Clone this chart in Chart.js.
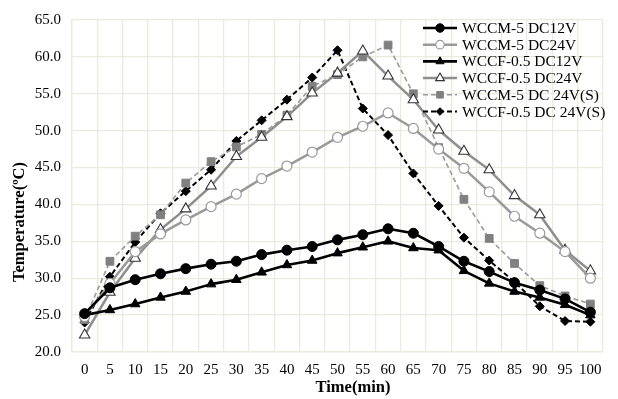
<!DOCTYPE html>
<html>
<head>
<meta charset="utf-8">
<script src="https://cdn.jsdelivr.net/npm/chart.js@4/dist/chart.umd.min.js"></script>
<style>
  html, body { margin: 0; padding: 0; background: #ffffff; }
  #wrap { width: 618px; height: 399px; position: relative; }
</style>
</head>
<body>
<div id="wrap"><canvas id="tempChart"></canvas></div>
<script>
// time axis (min)
const timeLabels = ['0','5','10','15','20','25','30','35','40','45','50','55','60','65','70','75','80','85','90','95','100'];

// temperatures (°C)
const wccm5Dc12 = [25.2, 28.7, 29.8, 30.6, 31.3, 31.9, 32.3, 33.2, 33.8, 34.3, 35.2, 35.9, 36.7, 36.1, 34.3, 32.3, 30.9, 29.4, 28.4, 27.2, 25.4];
const wccm5Dc24 = [24.8, 29.3, 33.6, 36.0, 37.9, 39.7, 41.4, 43.5, 45.2, 47.1, 49.1, 50.6, 52.4, 50.3, 47.5, 44.9, 41.7, 38.4, 36.1, 33.6, 30.0];
const wccf05Dc12 = [25.0, 25.7, 26.5, 27.4, 28.2, 29.2, 29.8, 30.8, 31.8, 32.4, 33.4, 34.2, 35.0, 34.1, 33.8, 31.0, 29.3, 28.2, 27.4, 26.4, 25.0];
const wccf05Dc24 = [22.3, 28.1, 32.7, 36.6, 39.4, 42.5, 46.5, 49.1, 51.9, 55.1, 57.8, 60.8, 57.4, 54.2, 50.1, 47.2, 44.7, 41.2, 38.6, 33.8, 31.0];
const wccm5Dc24S = [24.4, 32.3, 35.7, 38.6, 42.9, 45.8, 47.8, 49.5, 52.1, 56.0, 57.6, 60.0, 61.6, 55.0, 47.7, 40.7, 35.4, 32.0, 29.0, 27.6, 26.5];
const wccf05Dc24S = [24.0, 30.2, 34.9, 38.8, 41.8, 44.7, 48.6, 51.4, 54.2, 57.2, 60.9, 53.0, 49.4, 44.2, 39.8, 35.5, 32.4, 29.5, 26.2, 24.2, 24.1];

const seriesNames = ['WCCM-5 DC12V', 'WCCM-5 DC24V', 'WCCF-0.5 DC12V', 'WCCF-0.5 DC24V', 'WCCM-5 DC 24V(S)', 'WCCF-0.5 DC 24V(S)'];
const xTitle = 'Time(min)';
const yTitle = 'Temperature(ºC)';

const serif = "'Liberation Serif', 'Times New Roman', serif";
const gridColor = '#ebebdc';

function series(name, data, style) {
    return Object.assign({
        label: name,
        data: data,
        fill: false,
        tension: 0,
        borderJoinStyle: 'round'
    }, style);
}

const datasets = [
    series(seriesNames[0], wccm5Dc12, {
        borderColor: '#000', borderWidth: 2.6,
        pointStyle: 'circle', pointRadius: 5, pointBackgroundColor: '#000', pointBorderColor: '#000', pointBorderWidth: 1
    }),
    series(seriesNames[1], wccm5Dc24, {
        borderColor: '#9a9a9a', borderWidth: 2.5,
        pointStyle: 'circle', pointRadius: 5, pointBackgroundColor: '#fff', pointBorderColor: '#9a9a9a', pointBorderWidth: 1.2
    }),
    series(seriesNames[2], wccf05Dc12, {
        borderColor: '#000', borderWidth: 2.6,
        pointStyle: 'triangle', pointRadius: 5.5, pointBackgroundColor: '#000', pointBorderColor: '#000', pointBorderWidth: 1
    }),
    series(seriesNames[3], wccf05Dc24, {
        borderColor: '#8e8e8e', borderWidth: 2.5,
        pointStyle: 'triangle', pointRadius: 6, pointBackgroundColor: '#fff', pointBorderColor: '#333', pointBorderWidth: 1.1
    }),
    series(seriesNames[4], wccm5Dc24S, {
        borderColor: '#9a9a9a', borderWidth: 1.6, borderDash: [5, 3],
        pointStyle: 'rect', pointRadius: 5.5, pointBackgroundColor: '#808080', pointBorderColor: '#808080', pointBorderWidth: 1
    }),
    series(seriesNames[5], wccf05Dc24S, {
        borderColor: '#000', borderWidth: 2, borderDash: [5, 3],
        pointStyle: 'rectRot', pointRadius: 4.5, pointBackgroundColor: '#000', pointBorderColor: '#000', pointBorderWidth: 1
    })
];

// legend inside the plot (top-right) and the two axis titles, placed as in the figure
const figureText = {
    id: 'figureText',
    afterDraw(chart) {
        const ctx = chart.ctx;
        const area = chart.chartArea;
        const x0 = area.right - 180;
        const x1 = area.right - 146;
        const tx = area.right - 141;
        ctx.save();
        chart.data.datasets.forEach((ds, i) => {
            const y = area.top + 8 + i * 16.7;
            ctx.beginPath();
            ctx.setLineDash(ds.borderDash || []);
            ctx.strokeStyle = ds.borderColor;
            ctx.lineWidth = ds.borderWidth;
            ctx.moveTo(x0, y);
            ctx.lineTo(x1, y);
            ctx.stroke();
            ctx.setLineDash([]);
            ctx.fillStyle = ds.pointBackgroundColor;
            ctx.strokeStyle = ds.pointBorderColor;
            ctx.lineWidth = ds.pointBorderWidth;
            Chart.helpers.drawPoint(ctx, {
                pointStyle: ds.pointStyle,
                radius: ds.pointRadius * 0.85,
                borderWidth: ds.pointBorderWidth
            }, (x0 + x1) / 2, y);
            ctx.fillStyle = '#000';
            ctx.font = '15.5px ' + serif;
            ctx.textBaseline = 'middle';
            ctx.textAlign = 'left';
            ctx.fillText(ds.label, tx, y + 1);
        });

        // axis titles
        ctx.fillStyle = '#000';
        ctx.font = 'bold 16.5px ' + serif;
        ctx.textAlign = 'center';
        ctx.textBaseline = 'middle';
        ctx.fillText(xTitle, area.left + 281, 388);
        ctx.translate(20, area.top + 202);
        ctx.rotate(-Math.PI / 2);
        ctx.fillText(yTitle, 0, 0);
        ctx.restore();
    }
};

new Chart(document.getElementById('tempChart'), {
    type: 'line',
    data: { labels: timeLabels, datasets: datasets },
    options: {
        responsive: true,
        maintainAspectRatio: false,
        animation: false,
        layout: { padding: { top: 17, right: 15, left: 0, bottom: 0 } },
        plugins: {
            legend: { display: false },
            tooltip: { enabled: false }
        },
        scales: {
            x: {
                type: 'category',
                offset: true,
                grid: { color: gridColor, offset: true, drawTicks: false, lineWidth: 1.3 },
                border: { color: gridColor, width: 1.3 },
                ticks: { color: '#000', padding: 9, maxRotation: 0, autoSkip: false, font: { family: serif, size: 15 } },
                afterFit(scale) { scale.height = 47; }
            },
            y: {
                min: 20, max: 65,
                grid: { color: gridColor, drawTicks: false, lineWidth: 1.3 },
                border: { color: gridColor, width: 1.3 },
                ticks: {
                    stepSize: 5, color: '#000', padding: 11,
                    font: { family: serif, size: 15 },
                    callback: v => v.toFixed(1)
                },
                afterFit(scale) { scale.width = 72; }
            }
        }
    },
    plugins: [figureText]
});
</script>
</body>
</html>
